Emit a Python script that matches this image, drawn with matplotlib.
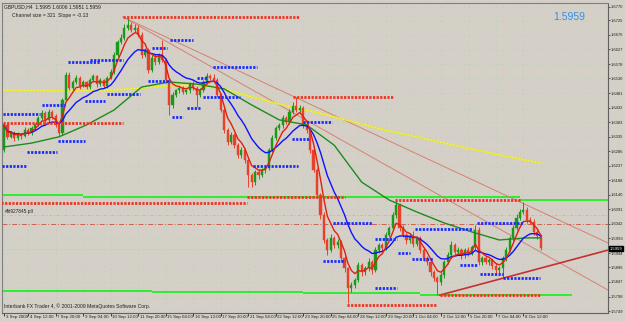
import numpy as np
import pandas as pd
import matplotlib
matplotlib.use("Agg")
import matplotlib.pyplot as plt

plt.rcParams['font.family'] = ['Liberation Sans', 'DejaVu Sans']

# GBPUSD H4 closes (one per bar), first open given separately
first_open = 1.6290
closes = [
    1.6374, 1.6334, 1.6347, 1.6330, 1.6344, 1.6337, 1.6357, 1.6347, 1.6364, 1.6377,
    1.6397, 1.6414, 1.6391, 1.6418, 1.6404, 1.6374, 1.6347, 1.6458, 1.6542, 1.6498,
    1.6518, 1.6532, 1.6505, 1.6518, 1.6501, 1.6525, 1.6538, 1.6511, 1.6525, 1.6505,
    1.6532, 1.6552, 1.6609, 1.6652, 1.6666, 1.6700, 1.6710, 1.6693, 1.6700, 1.6676,
    1.6609, 1.6625, 1.6559, 1.6599, 1.6585, 1.6609, 1.6592, 1.6525, 1.6441, 1.6475,
    1.6491, 1.6498, 1.6485, 1.6491, 1.6511, 1.6498, 1.6475, 1.6491, 1.6518, 1.6538,
    1.6532, 1.6525, 1.6475, 1.6424, 1.6357, 1.6317, 1.6340, 1.6306, 1.6273, 1.6290,
    1.6256, 1.6206, 1.6182, 1.6216, 1.6206, 1.6223, 1.6230, 1.6290, 1.6330, 1.6364,
    1.6374, 1.6397, 1.6384, 1.6418, 1.6438, 1.6424, 1.6431, 1.6374, 1.6357, 1.6290,
    1.6223, 1.6139, 1.6072, 1.5988, 1.5954, 1.5995, 1.5971, 1.5981, 1.5927, 1.5894,
    1.5827, 1.5837, 1.5854, 1.5904, 1.5880, 1.5894, 1.5914, 1.5887, 1.5954, 1.5971,
    1.5961, 1.6005, 1.6028, 1.6072, 1.6105, 1.6028, 1.6005, 1.5988, 1.6001, 1.5975,
    1.5995, 1.5954, 1.5927, 1.5914, 1.5880, 1.5861, 1.5847, 1.5870, 1.5914, 1.5937,
    1.5971, 1.5947, 1.5954, 1.5937, 1.5954, 1.5944, 1.5964, 1.6021, 1.5914, 1.5927,
    1.5914, 1.5921, 1.5901, 1.5887, 1.5894, 1.5927, 1.5954, 1.5995, 1.6028, 1.6062,
    1.6082, 1.6089, 1.6055, 1.6049, 1.6015, 1.6001, 1.5961,
]
# wick lengths in pips
upper_wick = [
    3, 6, 8, 5, 7, 4, 9, 6, 8, 5,
    7, 10, 6, 8, 5, 6, 4, 5, 10, 8,
    6, 9, 5, 7, 4, 8, 6, 5, 7, 4,
    6, 8, 10, 7, 12, 14, 26, 9, 12, 8,
    10, 6, 8, 9, 12, 7, 50, 8, 6, 9,
    5, 7, 8, 4, 6, 9, 5, 7, 8, 10,
    6, 12, 5, 7, 6, 8, 10, 6, 7, 9,
    6, 5, 8, 7, 9, 6, 10, 8, 9, 6,
    8, 10, 6, 9, 12, 30, 10, 7, 8, 6,
    8, 5, 7, 9, 6, 12, 8, 10, 6, 8,
    5, 9, 7, 10, 6, 8, 12, 7, 9, 8,
    6, 10, 8, 9, 17, 7, 10, 6, 9, 16,
    8, 6, 9, 7, 5, 8, 6, 9, 8, 10,
    12, 7, 9, 6, 8, 10, 7, 17, 9, 6,
    8, 7, 5, 9, 6, 8, 10, 7, 9, 12,
    10, 27, 8, 10, 9, 7, 6,
]
lower_wick = [
    7, 8, 5, 9, 6, 10, 5, 8, 6, 7,
    5, 8, 10, 6, 9, 7, 10, 6, 5, 8,
    7, 6, 9, 5, 8, 6, 7, 10, 6, 8,
    7, 5, 6, 8, 5, 7, 6, 8, 6, 7,
    9, 8, 10, 7, 9, 6, 8, 9, 33, 10,
    7, 9, 6, 8, 10, 7, 40, 8, 6, 7,
    8, 6, 9, 7, 10, 12, 8, 10, 9, 11,
    10, 40, 15, 9, 12, 8, 10, 7, 6, 8,
    7, 9, 8, 6, 9, 8, 7, 10, 9, 11,
    8, 10, 12, 9, 15, 8, 10, 9, 12, 14,
    51, 12, 10, 8, 12, 9, 10, 14, 8, 9,
    10, 7, 8, 6, 9, 10, 8, 12, 9, 10,
    8, 11, 9, 10, 12, 10, 44, 9, 8, 7,
    9, 10, 8, 12, 9, 10, 8, 9, 10, 9,
    8, 10, 9, 12, 10, 34, 8, 7, 9, 6,
    8, 7, 9, 8, 10, 9, 8,
]

# slow moving averages (bar index, price)
green_bars = [0, 8, 16, 24, 32, 40, 48, 56, 64, 72, 80, 88, 96, 104, 112, 120, 128, 136, 144, 152, 156]
green_vals = [1.6300, 1.6313, 1.6334, 1.6374, 1.6424, 1.6501, 1.6518, 1.6511, 1.6495, 1.6441, 1.6391,
              1.6374, 1.6306, 1.6182, 1.6122, 1.6082, 1.6045, 1.6015, 1.5988, 1.5995, 1.5995]
yellow_bars = [0, 16, 32, 48, 56, 64, 72, 80, 88, 96, 104, 112, 120, 128, 136, 144, 156]
yellow_vals = [1.6491, 1.6488, 1.6491, 1.6505, 1.6508, 1.6495, 1.6468, 1.6444, 1.6424, 1.6401, 1.6377,
               1.6353, 1.6334, 1.6313, 1.6293, 1.6273, 1.6246]

# fractal levels: (start bar, end bar, price)
red_levels = [(34.6, 86, 1.6736), (-0.3, 34.6, 1.6381), (-1, 70.6, 1.6112), (70.6, 99.1, 1.6132),
              (84, 113, 1.6468), (113.7, 150, 1.6122), (99.7, 125.9, 1.5770), (126.7, 155.8, 1.5803)]
blue_levels = [(-0.6, 6.7, 1.6236), (-0.3, 10.5, 1.6411), (6.7, 15.4, 1.6283), (11, 17.7, 1.6441),
               (15.7, 23.5, 1.6320), (18.6, 27.9, 1.6585), (25, 34.6, 1.6592), (23.5, 29.4, 1.6454),
               (29.9, 39.5, 1.6478), (41.9, 48.3, 1.6521), (43, 47.4, 1.6632), (48.3, 54.9, 1.6659),
               (48.8, 52, 1.6401), (53.2, 57, 1.6431), (56.1, 59, 1.6532), (60.8, 73.5, 1.6569),
               (57.8, 68.6, 1.6468), (72.4, 85.5, 1.6236), (83.7, 89, 1.6327), (86.9, 95.3, 1.6384),
               (95.6, 107, 1.6045), (107.8, 114.2, 1.5991), (92.7, 99.1, 1.5917), (114.5, 118, 1.5944),
               (118.6, 124.7, 1.5924), (119.5, 136.3, 1.6024), (137.5, 150.9, 1.6045),
               (132.6, 137.5, 1.5904), (138.4, 145, 1.5874), (145, 155.8, 1.5860), (107.8, 114.2, 1.5827)]
green_levels = [(-1, 23, 1.6139), (23, 150, 1.6132), (150, 176, 1.6122),
                (-1, 43, 1.5817), (43, 87, 1.5812), (87, 121, 1.5810), (121, 165, 1.5803)]
# trend lines: (bar0, price0, bar1, price1)
channel_lines = [(34.6, 1.6736, 175.6, 1.5978), (34.6, 1.6736, 175.6, 1.5820)]
rise_line = (126.7, 1.5803, 175.6, 1.5954)

y_ticks = [1.6770, 1.6725, 1.6676, 1.6627, 1.6578, 1.6530, 1.6481, 1.6432, 1.6383, 1.6335, 1.6286,
           1.6237, 1.6188, 1.6140, 1.6091, 1.6042, 1.5993, 1.5944, 1.5896, 1.5847, 1.5798, 1.5749]
x_tick_bars = [0, 7, 15, 23, 31, 39, 47, 55, 63, 71, 79, 87, 95, 103, 111, 119, 127, 135, 143, 151]
x_tick_labels = ["3 Sep 2009", "4 Sep 12:00", "7 Sep 20:00", "9 Sep 04:00", "10 Sep 12:00",
                 "11 Sep 20:00", "15 Sep 04:00", "16 Sep 12:00", "17 Sep 20:00", "21 Sep 04:00",
                 "22 Sep 12:00", "23 Sep 20:00", "25 Sep 04:00", "28 Sep 12:00", "29 Sep 20:00",
                 "1 Oct 04:00", "2 Oct 12:00", "5 Oct 20:00", "7 Oct 04:00", "8 Oct 12:00"]
last_price = 1.5959

bg = "#d4d0c8"
fs = 3.0
fig = plt.figure(figsize=(6.25, 3.21), dpi=100, facecolor=bg)
ax = fig.add_axes([2 / 625, 8 / 321, 606 / 625, 310 / 321])
ax.set_facecolor(bg)
ax.set_xlim(-0.58, 175.6)
ax.set_ylim(1.5743, 1.6783)

# grid
for t in y_ticks:
    ax.axhline(t, color="#9fd09f", lw=0.5, ls=(0, (1, 6)), zorder=0)
for b in x_tick_bars:
    ax.axvline(b, color="#9fd09f", lw=0.5, ls=(0, (1, 6)), zorder=0)

c = np.array(closes)
o = np.concatenate([[first_open], c[:-1]])
hi = np.maximum(o, c) + np.array(upper_wick) * 0.0001
lo = np.minimum(o, c) - np.array(lower_wick) * 0.0001
idx = np.arange(len(c))
up = c >= o
cols = np.where(up, "#1a9a1a", "#e8402a")

# horizontal level lines
for b0, b1, p in green_levels:
    ax.hlines(p, b0, b1, color="#22ee22", lw=1.3, zorder=1)
ax.axhline(1.6072, color="#9ed86e", lw=0.7, ls=(0, (3, 2, 1, 2)), zorder=1)
ax.axhline(1.6042, color="#d06050", lw=0.7, ls=(0, (5, 2, 1, 2)), zorder=1)
ax.axhline(last_price, color="#bcd8b0", lw=1.0, zorder=1)

for x0, p0, x1, p1 in channel_lines:
    ax.plot([x0, x1], [p0, p1], color="#d88070", lw=0.7, zorder=2)
ax.plot([rise_line[0], rise_line[2]], [rise_line[1], rise_line[3]], color="#c83030", lw=1.2, zorder=2)

ax.plot(yellow_bars, yellow_vals, color="#e8e820", lw=1.3, zorder=3)
ax.plot(yellow_bars, yellow_vals, color="#f8f8e0", lw=0.6, ls=(0, (1, 3)), zorder=3)

ax.vlines(idx, lo, hi, colors=cols, lw=0.7, zorder=4)
ax.bar(idx, np.maximum(np.abs(c - o), 0.00012), bottom=np.minimum(o, c), width=0.62,
       color=cols, edgecolor=cols, lw=0.3, zorder=5)

ax.plot(green_bars, green_vals, color="#1c8c1c", lw=1.0, zorder=6)
s = pd.Series(closes)
ax.plot(idx, s.ewm(span=14).mean(), color="#1010ff", lw=1.0, zorder=6)
ax.plot(idx, s.ewm(span=5).mean(), color="#e02010", lw=1.0, zorder=7)

for b0, b1, p in red_levels:
    ax.hlines(p, b0, b1, color="#ee3322", lw=2.0, ls=(0, (0.8, 0.5)), zorder=8)
for b0, b1, p in blue_levels:
    ax.hlines(p, b0, b1, color="#1a2cff", lw=2.0, ls=(0, (0.8, 0.5)), zorder=8)

# axes styling
for sp in ["top", "left"]:
    ax.spines[sp].set_color("#808080")
    ax.spines[sp].set_linewidth(0.8)
ax.spines["right"].set_color("#606060")
ax.spines["bottom"].set_color("#606060")
ax.yaxis.tick_right()
ax.set_yticks(y_ticks)
ax.set_yticklabels(["%.4f" % t for t in y_ticks], fontsize=fs, color="#202020")
ax.tick_params(axis="y", length=1.5, width=0.5, pad=0.6, colors="#202020")
ax.set_xticks(x_tick_bars)
ax.set_xticklabels([])
ax.tick_params(axis="x", length=2, width=0.5, direction="out")
for b, lab in zip(x_tick_bars, x_tick_labels):
    ax.text(b + 0.5, -0.005, lab, transform=ax.get_xaxis_transform(), fontsize=3.2,
            ha="left", va="top", color="#202020", clip_on=False)

ax.text(1.0035, last_price, "%.4f" % last_price, transform=ax.get_yaxis_transform(), fontsize=fs,
        color="white", va="center", ha="left",
        bbox=dict(boxstyle="square,pad=0.15", fc="black", ec="black"))

ax.text(0.004, 0.995, "GBPUSD,H4  1.5995 1.6006 1.5951 1.5959", transform=ax.transAxes,
        fontsize=3.6, va="top", ha="left", color="#202020")
ax.text(0.016, 0.968, "Channel size = 321  Slope = -0.13", transform=ax.transAxes,
        fontsize=3.6, va="top", ha="left", color="#202020")
ax.text(0.962, 0.972, "%.4f" % last_price, transform=ax.transAxes, fontsize=7.5,
        va="top", ha="right", color="#3d8de0")
ax.text(0.3, 1.6074, "#fit927845.pll", fontsize=3.4, va="bottom", ha="left", color="#202020")
ax.text(0.004, 0.012, "Interbank FX Trader 4, \u00a9 2001-2009 MetaQuotes Software Corp.",
        transform=ax.transAxes, fontsize=3.6, va="bottom", ha="left", color="#202020")

fig.savefig("out.png", dpi=100, facecolor=bg)
